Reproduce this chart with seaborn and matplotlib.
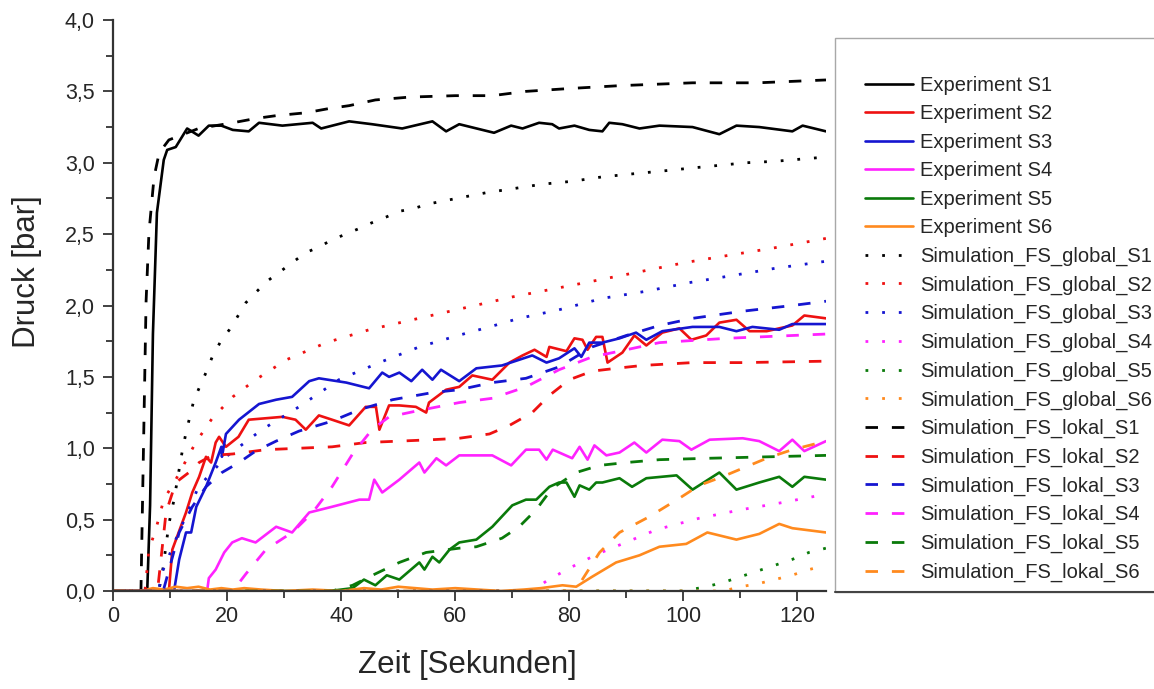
import matplotlib
matplotlib.use("Agg")
import matplotlib.pyplot as plt
import seaborn as sns
from matplotlib.ticker import MultipleLocator, FuncFormatter
from matplotlib.patches import Rectangle
from matplotlib.lines import Line2D

# ---- data (time in s, pressure in bar) ----
t_exp1 = [0, 6.0, 6.5, 7.0, 7.7, 8.9, 9.5, 11, 13, 15, 16.8, 19, 21, 23.8, 25.6, 29.7, 35, 36.5, 41.4, 45.4,
          50.7, 56, 58.4, 60.7, 66.8, 69.8, 71.8, 74.7, 77, 78.2, 80.9, 83.5, 85.8, 87, 89.3, 92.3, 95.8,
          101.6, 106.3, 109.3, 113.3, 119.1, 120.9, 125]
p_exp1 = [0, 0, 0.6, 1.8, 2.65, 3.02, 3.09, 3.11, 3.24, 3.19, 3.26, 3.26, 3.23, 3.22, 3.28, 3.26, 3.28, 3.24,
          3.29, 3.27, 3.24, 3.29, 3.22, 3.27, 3.21, 3.26, 3.24, 3.28, 3.27, 3.24, 3.26, 3.23, 3.22, 3.28,
          3.27, 3.24, 3.26, 3.25, 3.2, 3.26, 3.25, 3.22, 3.26, 3.22]

t_exp2 = [0, 9.8, 10.4, 12.8, 13.9, 15.1, 16.3, 17.2, 18, 18.6, 19.8, 22, 23.8, 29.7, 32, 33.8, 36.1, 38.4,
          41.4, 44.3, 46.1, 46.7, 48.4, 50.2, 53.1, 54.9, 55.4, 58.4, 60.7, 63, 66.5, 69.5, 71.8, 73.9, 76,
          76.5, 79.5, 80.9, 82.3, 83.2, 84.7, 85.8, 86.7, 89.3, 91.4, 93.5, 96.3, 99.3, 101.4, 104, 106.3,
          109.3, 111.6, 114.6, 116.8, 119.1, 121.2, 125]
p_exp2 = [0, 0, 0.29, 0.55, 0.69, 0.8, 0.94, 0.9, 1.04, 1.08, 1.01, 1.08, 1.2, 1.22, 1.2, 1.13, 1.23, 1.2,
          1.16, 1.29, 1.29, 1.13, 1.3, 1.3, 1.29, 1.25, 1.32, 1.41, 1.43, 1.51, 1.48, 1.6, 1.65, 1.69, 1.64,
          1.71, 1.68, 1.77, 1.76, 1.69, 1.78, 1.78, 1.6, 1.67, 1.79, 1.72, 1.81, 1.84, 1.76, 1.79, 1.88,
          1.9, 1.82, 1.82, 1.84, 1.86, 1.93, 1.91]

t_exp3 = [0, 10.7, 11.6, 12.8, 13.7, 14.6, 16.3, 18, 19, 19.1, 19.8, 22.1, 25.6, 28.6, 31.4, 34.4, 36.1,
          40.9, 44.9, 47.2, 48.4, 50.2, 52.3, 54.2, 56, 57.5, 60.7, 63.7, 68.2, 73.5, 76, 78.2, 80.9, 82.1,
          83.5, 85.8, 88.8, 91.7, 93.5, 96.3, 101.6, 106.3, 109.3, 112.1, 116.8, 119.1, 125]
p_exp3 = [0, 0, 0.22, 0.41, 0.41, 0.59, 0.73, 0.9, 1.01, 0.94, 1.1, 1.2, 1.31, 1.34, 1.36, 1.47, 1.49,
          1.46, 1.42, 1.53, 1.5, 1.53, 1.47, 1.55, 1.48, 1.55, 1.47, 1.56, 1.58, 1.65, 1.6, 1.63, 1.7, 1.64,
          1.74, 1.74, 1.77, 1.81, 1.76, 1.82, 1.85, 1.85, 1.82, 1.85, 1.83, 1.87, 1.87]

t_exp4 = [0, 16.5, 16.8, 18, 19.5, 20.9, 22.6, 25, 28.6, 31.4, 34.4, 38.4, 43.2, 44.9, 45.8, 47.2, 50.2,
          53.7, 54.6, 56.7, 58.4, 60.7, 66.5, 69.8, 72.4, 74.7, 76, 77.1, 80.5, 81.8, 83.2, 84.4, 86.5, 88.8,
          91.4, 93.5, 96.3, 99.3, 101.4, 104.6, 110.4, 113.3, 116.8, 119.1, 121.2, 125]
p_exp4 = [0, 0, 0.09, 0.15, 0.27, 0.34, 0.37, 0.34, 0.45, 0.41, 0.55, 0.59, 0.64, 0.64, 0.78, 0.69, 0.78,
          0.9, 0.83, 0.93, 0.88, 0.95, 0.95, 0.88, 0.99, 0.99, 0.92, 0.99, 0.93, 1.01, 0.92, 1.02, 0.95, 0.97,
          1.04, 0.97, 1.06, 1.05, 0.99, 1.06, 1.07, 1.05, 0.98, 1.06, 0.98, 1.05]

t_exp5 = [0, 38, 42, 44, 46, 48, 50.2, 53.7, 54.6, 56, 57.2, 59, 60.7, 63.7, 66.5, 70, 72.4, 74.2, 76.5,
          78.2, 79.5, 80.9, 81.8, 83.5, 84.7, 85.8, 88.8, 91, 93.5, 98.8, 101.6, 106.3, 109.3, 113.3, 116.8,
          119.1, 121.2, 125]
p_exp5 = [0, 0, 0.02, 0.08, 0.04, 0.11, 0.08, 0.2, 0.15, 0.24, 0.2, 0.29, 0.34, 0.36, 0.45, 0.6, 0.64, 0.64,
          0.73, 0.76, 0.76, 0.66, 0.74, 0.71, 0.76, 0.76, 0.79, 0.73, 0.79, 0.81, 0.71, 0.83, 0.71, 0.76,
          0.8, 0.73, 0.8, 0.78]

t_exp6 = [0, 5, 7, 9, 11, 13, 15, 17, 19, 21, 23, 26, 30, 35, 40, 44, 47, 50, 53, 56, 60, 64, 68, 72, 75,
          78.8, 81.2, 84, 88.2, 92.3, 95.8, 100.5, 104.2, 109.3, 113.3, 116.8, 119.1, 125]
p_exp6 = [0, 0, 0.02, 0.01, 0.03, 0.02, 0.03, 0.01, 0.02, 0.01, 0.02, 0.01, 0.0, 0.01, 0.0, 0.02, 0.01,
          0.03, 0.02, 0.01, 0.02, 0.01, 0.0, 0.01, 0.02, 0.04, 0.03, 0.1, 0.2, 0.25, 0.31, 0.33, 0.41, 0.36,
          0.4, 0.47, 0.44, 0.41]

t_glo1 = [0, 8, 8.6, 9.8, 10.7, 12.1, 12.8, 14.2, 16.3, 17.4, 18.9, 20.4, 21.8, 23.3, 25, 27, 29.4, 31.4,
          33.8, 36.1, 38.4, 40.8, 43.2, 45.4, 47.9, 50.2, 52.8, 55.1, 57.7, 60.2, 65.4, 70.4, 75.3, 80.5,
          85.6, 90.5, 95.8, 100.7, 105.8, 111, 116, 125]
p_glo1 = [0, 0, 0.11, 0.47, 0.64, 0.97, 1.11, 1.34, 1.53, 1.64, 1.75, 1.83, 1.92, 2.02, 2.09, 2.17, 2.24,
          2.3, 2.37, 2.41, 2.46, 2.5, 2.54, 2.58, 2.62, 2.66, 2.68, 2.71, 2.73, 2.75, 2.79, 2.82, 2.85, 2.87,
          2.9, 2.92, 2.94, 2.96, 2.98, 3.0, 3.01, 3.04]

t_glo2 = [0, 5.6, 6.3, 7.5, 8.9, 11, 14.5, 17.4, 21, 25, 30.4, 37.4, 44.9, 52.5, 60.2, 70, 77.7, 85.3,
          92.8, 100.2, 107.7, 115.4, 125]
p_glo2 = [0, 0, 0.29, 0.43, 0.64, 0.78, 1.04, 1.21, 1.36, 1.48, 1.62, 1.74, 1.83, 1.9, 1.97, 2.06, 2.12,
          2.18, 2.24, 2.3, 2.35, 2.4, 2.47]

t_glo3 = [0, 8, 8.6, 11, 15, 19.8, 26.1, 32.6, 39.6, 46.7, 53.7, 60.5, 66, 71.2, 78.2, 85.8, 93.5, 101,
          108.6, 116, 125]
p_glo3 = [0, 0, 0.13, 0.36, 0.73, 0.94, 1.13, 1.29, 1.48, 1.6, 1.71, 1.79, 1.85, 1.91, 1.97, 2.05, 2.1,
          2.16, 2.21, 2.26, 2.31]

t_glo4 = [0, 73.5, 76, 80, 85, 90.5, 95.3, 102.8, 110.2, 117.4, 122.6, 125]
p_glo4 = [0, 0, 0.07, 0.16, 0.26, 0.35, 0.43, 0.51, 0.57, 0.62, 0.66, 0.68]

t_glo5 = [0, 100, 104, 107, 110, 113, 116, 119, 122, 125]
p_glo5 = [0, 0, 0.03, 0.06, 0.1, 0.14, 0.18, 0.22, 0.27, 0.3]

t_glo6 = [0, 107, 110, 113, 116, 119, 122, 125]
p_glo6 = [0, 0, 0.03, 0.05, 0.08, 0.11, 0.15, 0.18]

t_lok1 = [0, 4.9, 5.8, 6.3, 7.2, 8.1, 9.8, 15, 21, 25, 28.6, 33.8, 37.9, 41.4, 46, 52, 60, 66.5, 72.4, 80,
          88.8, 101.6, 113, 125]
p_lok1 = [0, 0, 2.03, 2.51, 2.9, 3.07, 3.16, 3.24, 3.28, 3.31, 3.33, 3.35, 3.38, 3.40, 3.44, 3.46, 3.47,
          3.47, 3.5, 3.52, 3.54, 3.56, 3.56, 3.58]

t_lok2 = [0, 7.8, 9.3, 11, 13.3, 15.1, 17.4, 21, 26.8, 32.6, 38.4, 44.3, 50.2, 56, 60.7, 66, 69.5, 73.5,
          76.5, 80, 84, 88.2, 92.8, 101.6, 110.4, 125]
p_lok2 = [0, 0, 0.55, 0.76, 0.83, 0.9, 0.95, 0.96, 0.99, 1.0, 1.01, 1.04, 1.05, 1.06, 1.07, 1.1, 1.16, 1.25,
          1.37, 1.48, 1.54, 1.56, 1.58, 1.6, 1.6, 1.61]

t_lok3 = [0, 8.8, 11.6, 13.9, 16.3, 19.1, 22.1, 25, 28.6, 32.6, 38.4, 43.2, 49, 56, 60.7, 66.5, 72.4, 78.2,
          84, 90, 95.8, 101.6, 110.4, 119.1, 125]
p_lok3 = [0, 0, 0.41, 0.59, 0.73, 0.83, 0.9, 0.98, 1.05, 1.12, 1.19, 1.27, 1.34, 1.39, 1.41, 1.46, 1.49,
          1.57, 1.71, 1.79, 1.86, 1.91, 1.96, 2.0, 2.03]

t_lok4 = [0, 21, 23.3, 26.8, 31.4, 35, 38.4, 42, 45.4, 48.4, 53.1, 60.7, 66.5, 72.4, 78.2, 84, 90, 95.8,
          107.5, 125]
p_lok4 = [0, 0, 0.12, 0.29, 0.41, 0.55, 0.73, 0.96, 1.13, 1.22, 1.26, 1.32, 1.35, 1.43, 1.55, 1.64, 1.69,
          1.74, 1.77, 1.8]

t_lok5 = [0, 38.4, 42, 46, 50.2, 54.9, 60.7, 63.7, 68.2, 71.2, 74.2, 77, 81.2, 85.3, 90, 95.8, 104.6, 125]
p_lok5 = [0, 0, 0.04, 0.12, 0.2, 0.27, 0.3, 0.31, 0.37, 0.45, 0.57, 0.72, 0.83, 0.88, 0.9, 0.92, 0.93, 0.95]

t_lok6 = [0, 81, 85.3, 88.8, 94, 99.3, 102.8, 106.8, 110.4, 114.6, 119.1, 125]
p_lok6 = [0, 0, 0.27, 0.41, 0.52, 0.65, 0.74, 0.8, 0.86, 0.93, 0.99, 1.05]

colors = ['#000000', '#ee1111', '#1515d0', '#ff22ff', '#0a7a0a', '#ff8a1e']

exp_data = [(t_exp1, p_exp1), (t_exp2, p_exp2), (t_exp3, p_exp3), (t_exp4, p_exp4), (t_exp5, p_exp5), (t_exp6, p_exp6)]
glo_data = [(t_glo1, p_glo1), (t_glo2, p_glo2), (t_glo3, p_glo3), (t_glo4, p_glo4), (t_glo5, p_glo5), (t_glo6, p_glo6)]
lok_data = [(t_lok1, p_lok1), (t_lok2, p_lok2), (t_lok3, p_lok3), (t_lok4, p_lok4), (t_lok5, p_lok5), (t_lok6, p_lok6)]

sns.set_style("ticks")
plt.rcParams['font.family'] = ['Liberation Sans', 'DejaVu Sans']

W, H = 1154, 689
fig = plt.figure(figsize=(W / 100, H / 100), dpi=100)
ax = fig.add_axes([113 / W, 1 - 591 / H, 713 / W, 571 / H])

groups = [
    ('Experiment S{}', exp_data, dict(linewidth=1.9, linestyle='-')),
    ('Simulation_FS_global_S{}', glo_data, dict(linewidth=2.0, linestyle=(0, (1, 5)))),
    ('Simulation_FS_lokal_S{}', lok_data, dict(linewidth=2.0, linestyle=(0, (4.5, 5)))),
]
for name, data, style in groups:
    for i, (t, p) in enumerate(data):
        sns.lineplot(x=t, y=p, ax=ax, color=colors[i], label=name.format(i + 1),
                     estimator=None, sort=False, **style)

ax.set_xlim(0, 125)
ax.set_ylim(0, 4.0)
ax.xaxis.set_major_locator(MultipleLocator(20))
ax.xaxis.set_minor_locator(MultipleLocator(10))
ax.yaxis.set_major_locator(MultipleLocator(0.5))
ax.yaxis.set_minor_locator(MultipleLocator(0.25))
ax.yaxis.set_major_formatter(FuncFormatter(lambda v, _: f"{v:.1f}".replace('.', ',')))

sns.despine(ax=ax)
for s in ['left', 'bottom']:
    ax.spines[s].set_linewidth(1.6)
    ax.spines[s].set_color('#333333')
ax.tick_params(which='major', direction='out', length=7, width=1.3, color='#333333',
               labelsize=15.5, pad=4)
ax.tick_params(which='minor', direction='out', length=5, width=1.3, color='#333333')
ax.tick_params(axis='y', which='major', pad=6)

ax.set_xlabel('Zeit [Sekunden]', fontsize=22.5)
ax.set_ylabel('Druck [bar]', fontsize=22.5)
ax.xaxis.set_label_coords(0.497, -0.103)
ax.yaxis.set_label_coords(-0.100, 0.56)

# legend box reaching past the right edge
fig.add_artist(Rectangle((835 / W, 1 - 592 / H), 0.4, (592 - 38) / H, transform=fig.transFigure,
                         fill=False, edgecolor='#a8a8a8', linewidth=1.0))
fig.add_artist(Line2D([835 / W, 1.0], [1 - 592 / H, 1 - 592 / H], transform=fig.transFigure,
                      color='#444444', linewidth=1.5))

handles, labels = ax.get_legend_handles_labels()
ax.legend(handles, labels, loc='upper left', bbox_to_anchor=(865 / W, 1 - 76 / H),
          bbox_transform=fig.transFigure, frameon=False, fontsize=14.5,
          handlelength=2.4, handletextpad=0.35, labelspacing=0.47,
          borderpad=0, borderaxespad=0)

fig.savefig('out.png', dpi=100)
